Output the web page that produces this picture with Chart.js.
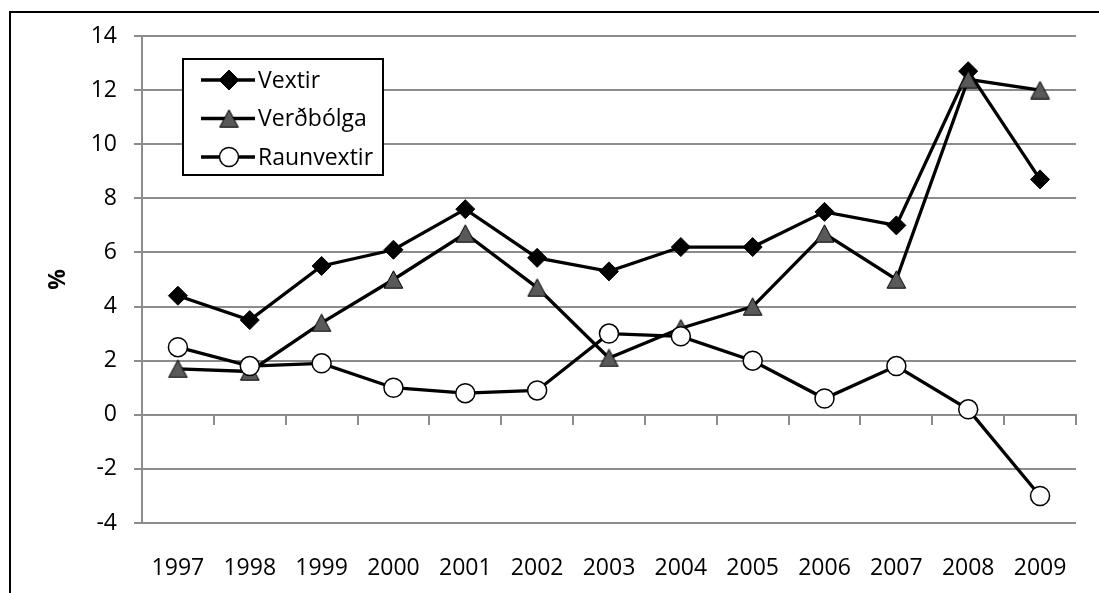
<!DOCTYPE html>
<html>
<head>
<meta charset="utf-8">
<script src="https://cdn.jsdelivr.net/npm/chart.js@4.4.1/dist/chart.umd.min.js"></script>
<style>
html,body{margin:0;padding:0;background:#fff;}
#wrap{position:relative;width:1099px;height:593px;}
canvas{display:block;}
</style>
</head>
<body>
<div id="wrap"><canvas id="c" width="1099" height="593"></canvas></div>
<script>
// ---- data ----
const years = ['1997','1998','1999','2000','2001','2002','2003','2004','2005','2006','2007','2008','2009'];
const vextir = [4.4, 3.5, 5.5, 6.1, 7.6, 5.8, 5.3, 6.2, 6.2, 7.5, 7.0, 12.7, 8.7];
const verdbolga = [1.7, 1.6, 3.4, 5.0, 6.7, 4.7, 2.1, 3.2, 4.0, 6.7, 5.0, 12.4, 12.0];
const raunvextir = [2.5, 1.8, 1.9, 1.0, 0.8, 0.9, 3.0, 2.9, 2.0, 0.6, 1.8, 0.2, -3.0];
const seriesNames = ['Vextir', 'Verðbólga', 'Raunvextir'];
const yTicks = {min: -4, max: 14, step: 2};
const yTitle = '%';

// ---- styles ----
const FONT = "'Open Sans', 'Liberation Sans', sans-serif";
const FSIZE = 23;
const gridColor = '#8c8c8c';

// triangle marker canvas (centred on its bounding box)
function makeTriangle() {
  const c = document.createElement('canvas');
  c.width = 21; c.height = 19;
  const g = c.getContext('2d');
  g.beginPath();
  g.moveTo(10.5, 0.8);
  g.lineTo(19.8, 18.2);
  g.lineTo(1.2, 18.2);
  g.closePath();
  g.fillStyle = '#595959';
  g.fill();
  g.lineWidth = 1;
  g.strokeStyle = '#000';
  g.stroke();
  return c;
}
const triangle = makeTriangle();

const bgAndFrame = {
  id: 'bgAndFrame',
  beforeDraw(chart) {
    const ctx = chart.ctx;
    ctx.save();
    ctx.fillStyle = '#fff';
    ctx.fillRect(0, 0, chart.width, chart.height);
    ctx.restore();
  },
  afterDraw(chart) {
    const ctx = chart.ctx;
    ctx.save();
    ctx.fillStyle = '#000';
    ctx.fillRect(9, 11, 2, chart.height);
    ctx.fillRect(9, 11, chart.width, 2);
    ctx.restore();
  }
};

const boxLegend = {
  id: 'boxLegend',
  afterDraw(chart) {
    const ctx = chart.ctx;
    ctx.save();
    const bx = 183, by = 59, bw = 200, bh = 116;
    ctx.fillStyle = '#fff';
    ctx.fillRect(bx, by, bw, bh);
    ctx.strokeStyle = '#000';
    ctx.lineWidth = 2;
    ctx.strokeRect(bx, by, bw, bh);
    chart.data.datasets.forEach((ds, i) => {
      const y = 80 + i * 38.5;
      ctx.strokeStyle = ds.borderColor;
      ctx.lineWidth = ds.borderWidth;
      ctx.beginPath();
      ctx.moveTo(201, y);
      ctx.lineTo(255, y);
      ctx.stroke();
      ctx.fillStyle = ds.pointBackgroundColor;
      ctx.strokeStyle = ds.pointBorderColor;
      ctx.lineWidth = ds.pointBorderWidth;
      Chart.helpers.drawPoint(ctx, {
        pointStyle: ds.pointStyle,
        radius: ds.legendRadius || ds.pointRadius,
        borderWidth: ds.pointBorderWidth,
        rotation: 0
      }, 229, y);
      ctx.fillStyle = '#000';
      ctx.font = FSIZE + 'px ' + FONT;
      ctx.textAlign = 'left';
      ctx.textBaseline = 'middle';
      ctx.fillText(ds.label, 258, y + 1);
    });
    ctx.restore();
  }
};

new Chart(document.getElementById('c'), {
  type: 'line',
  data: {
    labels: years,
    datasets: [
      {
        label: seriesNames[0], data: vextir, order: 3,
        borderColor: '#000', borderWidth: 3.3,
        pointStyle: 'rectRot', pointRadius: 9.5, legendRadius: 10,
        pointBackgroundColor: '#000', pointBorderColor: '#000', pointBorderWidth: 1,
        tension: 0
      },
      {
        label: seriesNames[1], data: verdbolga, order: 2,
        borderColor: '#000', borderWidth: 3.3,
        pointStyle: triangle, pointRadius: 10,
        pointBackgroundColor: '#595959', pointBorderColor: '#000', pointBorderWidth: 1,
        tension: 0
      },
      {
        label: seriesNames[2], data: raunvextir, order: 1,
        borderColor: '#000', borderWidth: 3.3,
        pointStyle: 'circle', pointRadius: 9.5,
        pointBackgroundColor: '#fff', pointBorderColor: '#000', pointBorderWidth: 1.5,
        tension: 0
      }
    ]
  },
  options: {
    responsive: false,
    devicePixelRatio: 1,
    animation: false,
    events: [],
    layout: {padding: {left: 0, top: 36, right: 17, bottom: 0}},
    plugins: {legend: {display: false}, tooltip: {enabled: false}},
    scales: {
      x: {
        type: 'category',
        position: 'bottom',
        offset: true,
        grid: {display: false, drawTicks: false},
        border: {display: false},
        ticks: {color: '#000', font: {family: FONT, size: FSIZE}, padding: 32, maxRotation: 0, autoSkip: false},
        afterFit(scale) { scale.height = 70; }
      },
      xz: {
        type: 'category',
        position: {y: 0},
        offset: true,
        grid: {drawOnChartArea: false, drawTicks: true, tickLength: 9, offset: true, color: gridColor, lineWidth: 2},
        border: {display: true, color: gridColor, width: 2},
        ticks: {display: false}
      },
      y: {
        type: 'linear',
        position: 'left',
        min: yTicks.min, max: yTicks.max,
        grid: {color: gridColor, lineWidth: 2, tickLength: 8, drawTicks: true},
        border: {display: true, color: gridColor, width: 2},
        ticks: {stepSize: yTicks.step, color: '#000', font: {family: FONT, size: FSIZE}, padding: 17},
        title: {display: true, text: yTitle, color: '#000', font: {family: FONT, size: FSIZE, weight: 'bold'}, padding: {top: 45, bottom: 0}},
        afterFit(scale) { scale.width = 142; }
      }
    }
  },
  plugins: [bgAndFrame, boxLegend]
});
</script>
</body>
</html>
